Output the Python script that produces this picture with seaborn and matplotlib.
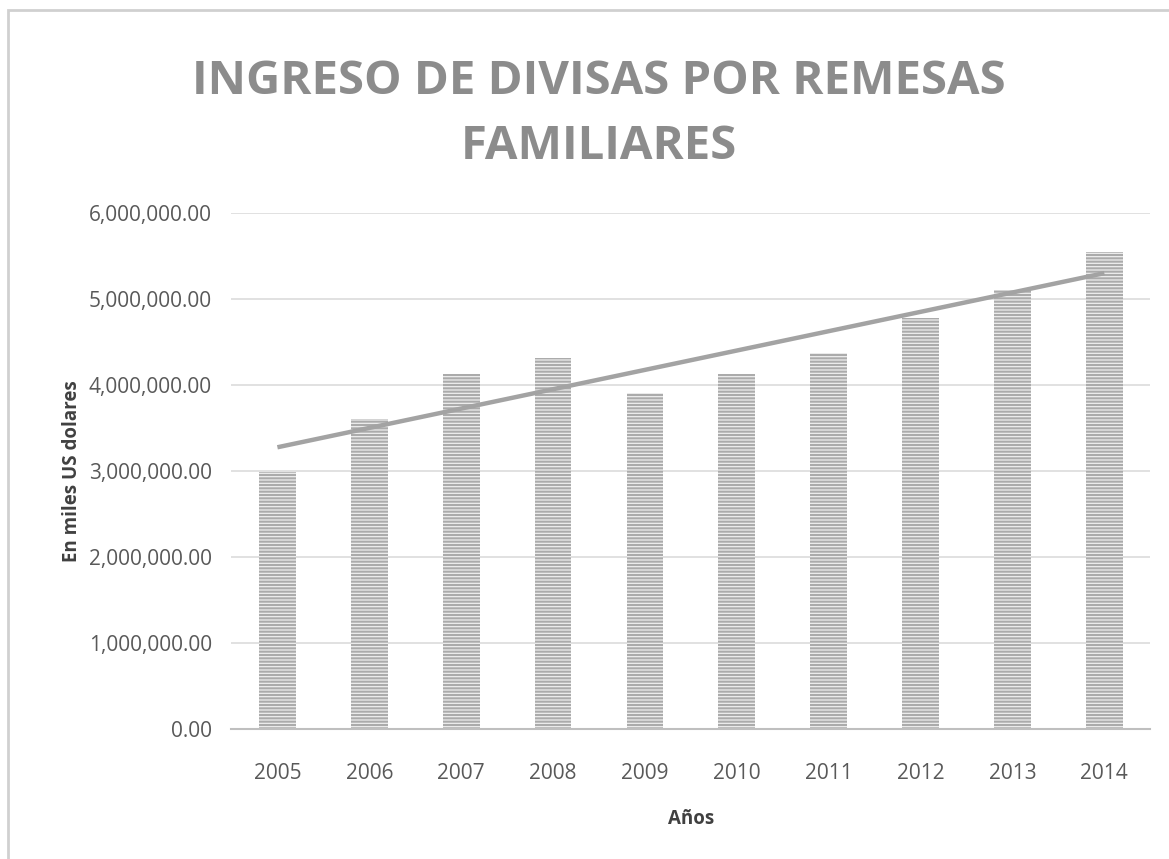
import numpy as np
import pandas as pd
import matplotlib
matplotlib.use("Agg")
import matplotlib.pyplot as plt
import seaborn as sns
from matplotlib.patches import Rectangle
from matplotlib.ticker import FuncFormatter

# data (miles de US dolares)
years = ["2005", "2006", "2007", "2008", "2009", "2010", "2011", "2012", "2013", "2014"]
remesas = [2993000, 3610000, 4128000, 4315000, 3912000, 4127000, 4378000, 4783000, 5105000, 5544000]

df = pd.DataFrame({"anio": years, "remesas": remesas})

sns.set_style("white")
plt.rcParams["font.family"] = ["Open Sans", "DejaVu Sans"]
plt.rcParams["hatch.linewidth"] = 1.5
plt.rcParams["hatch.color"] = "#ababab"

fig = plt.figure(figsize=(11.69, 8.59), dpi=100)
ax = fig.add_axes([0.198, 0.151, 0.786, 0.601])

sns.barplot(data=df, x="anio", y="remesas", color="#eeeeee", width=0.4,
            saturation=1, ax=ax)
for p in ax.patches:
    p.set_hatch("-----")
    p.set_edgecolor("#ababab")
    p.set_linewidth(0)

# linear trend
xs = np.arange(len(years))
m, b = np.polyfit(xs, remesas, 1)
ax.plot(xs, m * xs + b, color="#a3a3a3", lw=3.2, solid_capstyle="butt", zorder=3)

ax.set_ylim(0, 6000000)
ax.set_xlim(-0.5, len(years) - 0.5)
ax.set_yticks(np.arange(0, 6000001, 1000000))
ax.yaxis.set_major_formatter(FuncFormatter(lambda v, p: f"{v:,.2f}"))
ax.grid(axis="y", color="#dcdcdc", lw=1.2)
ax.set_axisbelow(True)

for s in ["top", "right", "left"]:
    ax.spines[s].set_visible(False)
ax.spines["bottom"].set_color("#bfbfbf")
ax.spines["bottom"].set_linewidth(1.5)

# excel style ticks between categories
ax.set_xticks(np.arange(-0.5, len(years), 1), minor=True)
ax.tick_params(axis="x", which="minor", length=6, width=1.5, color="#bfbfbf", direction="out")
ax.tick_params(axis="x", which="major", length=0, pad=24, labelsize=15, labelcolor="#595959")
ax.tick_params(axis="y", length=0, pad=14, labelsize=15, labelcolor="#595959")

ax.set_xlabel("Años", fontsize=13.5, fontweight="bold", color="#404040", labelpad=18)
ax.set_ylabel("En miles US dolares", fontsize=13.5, fontweight="bold", color="#404040", labelpad=10)
ax.yaxis.set_label_coords(-0.163, 0.5)

fig.text(0.512, 0.905, "INGRESO DE DIVISAS POR REMESAS", ha="center", va="center",
         fontsize=34, fontweight="bold", color="#8c8c8c")
fig.text(0.512, 0.830, "FAMILIARES", ha="center", va="center",
         fontsize=34, fontweight="bold", color="#8c8c8c")

# outer frame
fig.patches.append(Rectangle((8 / 1169, -0.01), 1.1, 1 - 10 / 859 + 0.01,
                             transform=fig.transFigure, fill=False,
                             edgecolor="#d0d0d0", lw=2))

fig.savefig("out.png", dpi=100)
